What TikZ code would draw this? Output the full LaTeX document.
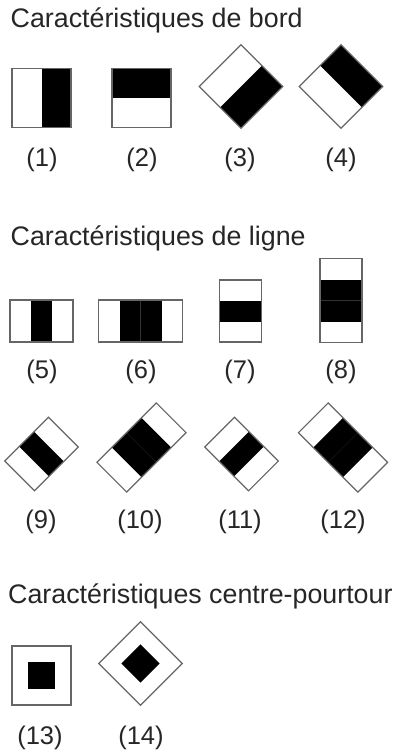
\documentclass[tikz,border=0pt]{standalone}
\usepackage{fontspec}
\setmainfont{Liberation Sans}
\usepackage{tikz}

% motifs, centres a l'origine (unites en pixels, y vers le bas)
\newcommand{\motifBord}{%
  \fill (0,-29.5) rectangle (29.5,29.5);
  \draw[cadre] (-29.5,-29.5) rectangle (29.5,29.5);}
\newcommand{\motifLigne}{%
  \fill (-21,-10.5) rectangle (21,10.5);
  \draw[cadre] (-21,-31) rectangle (21,31);}
\newcommand{\motifLigneDouble}{%
  \fill (-21,-21) rectangle (21,21);
  \draw[separe] (-21,0) -- (21,0);
  \draw[cadre] (-21,-42) rectangle (21,42);}
\newcommand{\motifCentre}{%
  \fill (-13.5,-13.5) rectangle (13.5,13.5);
  \draw[cadre] (-29.5,-29.5) rectangle (29.5,29.5);}

\begin{document}
\begin{tikzpicture}[
    x=1pt, y=-1pt,
    cadre/.style={draw=black!60, line width=1.2pt},
    separe/.style={draw=black!80, line width=0.3pt},
    titre/.style={anchor=base west, text=black!85,
      font=\fontsize{26.8}{30}\selectfont, inner sep=0pt},
    etiquette/.style={text=black!85, font=\fontsize{25.5}{29}\selectfont,
      inner sep=0pt}
]
\useasboundingbox[fill=white] (0,0) rectangle (398,751);

% Caracteristiques de bord
\node[titre] (tbord) at (10.5,28) {Caractéristiques de bord};
\begin{scope}[shift={(41.5,98)}]
  \motifBord
\end{scope}
\begin{scope}[shift={(141.5,98)}]
  \fill (-29.5,-29.5) rectangle (29.5,0);
  \draw[cadre] (-29.5,-29.5) rectangle (29.5,29.5);
\end{scope}
\begin{scope}[shift={(241,86.5)}, rotate=-45]
  \motifBord
\end{scope}
\begin{scope}[shift={(341,86.5)}, rotate=45]
  \motifBord
\end{scope}
\node[etiquette] (e1) at (42,160) {(1)};
\node[etiquette] (e2) at (142,160) {(2)};
\node[etiquette] (e3) at (240,160) {(3)};
\node[etiquette] (e4) at (341,160) {(4)};

% Caracteristiques de ligne
\node[titre] (tligne) at (10.5,245) {Caractéristiques de ligne};
\begin{scope}[shift={(41.5,321)}]
  \fill (-10.5,-21) rectangle (10.5,21);
  \draw[cadre] (-31.5,-21) rectangle (31.5,21);
\end{scope}
\begin{scope}[shift={(140.5,321)}]
  \fill (-21,-21) rectangle (21,21);
  \draw[separe] (0,-21) -- (0,21);
  \draw[cadre] (-42,-21) rectangle (42,21);
\end{scope}
\begin{scope}[shift={(240.5,311)}]
  \motifLigne
\end{scope}
\begin{scope}[shift={(341,300.5)}]
  \motifLigneDouble
\end{scope}
\node[etiquette] (e5) at (42,372) {(5)};
\node[etiquette] (e6) at (141,372) {(6)};
\node[etiquette] (e7) at (240,372) {(7)};
\node[etiquette] (e8) at (341,372) {(8)};

\begin{scope}[shift={(41.5,454)}, rotate=-45]
  \motifLigne
\end{scope}
\begin{scope}[shift={(141.5,447.5)}, rotate=-45]
  \motifLigneDouble
\end{scope}
\begin{scope}[shift={(241.5,454)}, rotate=45]
  \motifLigne
\end{scope}
\begin{scope}[shift={(343,447.5)}, rotate=45]
  \motifLigneDouble
\end{scope}
\node[etiquette] (e9) at (41,522) {(9)};
\node[etiquette] (e10) at (140,522) {(10)};
\node[etiquette] (e11) at (240,522) {(11)};
\node[etiquette] (e12) at (343,522) {(12)};

% Caracteristiques centre-pourtour
\node[titre] (tcentre) at (8,603) {Caractéristiques centre-pourtour};
\begin{scope}[shift={(41.5,675.5)}]
  \motifCentre
\end{scope}
\begin{scope}[shift={(140.5,663.5)}, rotate=45]
  \motifCentre
\end{scope}
\node[etiquette] (e13) at (40,738) {(13)};
\node[etiquette] (e14) at (141,738) {(14)};
\end{tikzpicture}
\end{document}
